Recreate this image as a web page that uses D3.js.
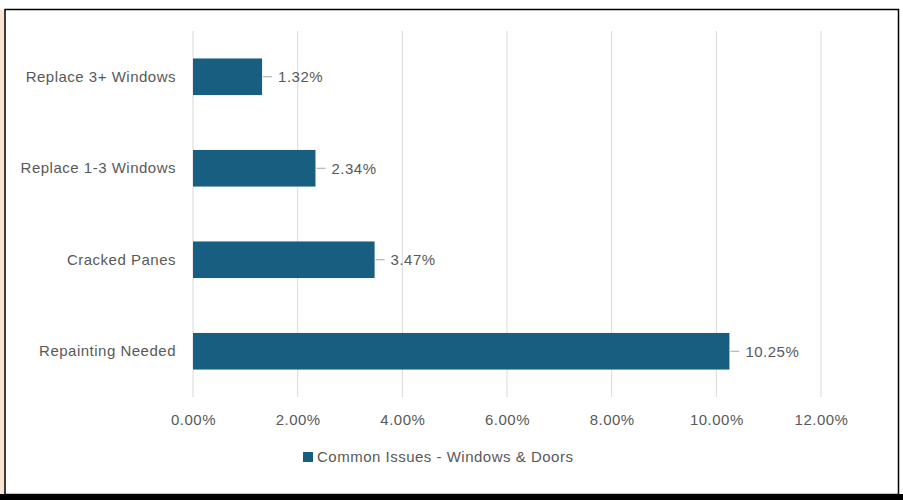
<!DOCTYPE html>
<html><head><meta charset="utf-8">
<script src="https://cdn.jsdelivr.net/npm/d3@7/dist/d3.min.js"></script>
<style>
html,body{margin:0;padding:0;background:#fff;}
svg{display:block;}
text{font-family:"Liberation Sans",Arial,sans-serif;fill:#595959;letter-spacing:0.5px;}
</style></head>
<body>
<script>
const categories = ["Replace 3+ Windows","Replace 1-3 Windows","Cracked Panes","Repainting Needed"];
const values = [1.32, 2.34, 3.47, 10.25];
const xTicks = [0,2,4,6,8,10,12];
const seriesName = "Common Issues - Windows & Doors";

const W = 903, H = 500;
const svg = d3.select("body").append("svg").attr("width", W).attr("height", H);

// frame
svg.append("rect").attr("x",0).attr("y",10).attr("width",5).attr("height",H-10).attr("fill","#fbe5d2");
svg.append("rect").attr("x",5).attr("y",9.5).attr("width",893.5).attr("height",485).attr("fill","#fff").attr("stroke","#000").attr("stroke-width",1.5);
svg.append("rect").attr("x",0).attr("y",494).attr("width",W).attr("height",6).attr("fill","#000");

const x = d3.scaleLinear().domain([0,12]).range([193,821]);
const y = d3.scaleBand().domain(categories).range([31,397]).paddingInner(0.6).paddingOuter(0.3);

// gridlines
svg.append("g").selectAll("line").data(xTicks).join("line")
  .attr("x1",d=>x(d)).attr("x2",d=>x(d)).attr("y1",31).attr("y2",397)
  .attr("stroke","#d9d9d9").attr("stroke-width",1);

// x tick labels
const xa = d3.axisBottom(x).tickValues(xTicks).tickSize(0).tickPadding(0).tickFormat(d=>d.toFixed(2)+"%");
const gx = svg.append("g").attr("transform","translate(0,414)").call(xa);
gx.select(".domain").remove();
gx.selectAll("text").attr("font-size",15).attr("fill","#595959").attr("font-family","Liberation Sans, Arial, sans-serif");

// y labels
const ya = d3.axisLeft(y).tickSize(0).tickPadding(17);
const gy = svg.append("g").attr("transform","translate(193,0)").call(ya);
gy.select(".domain").remove();
gy.selectAll("text").attr("font-size",15).attr("fill","#595959").attr("font-family","Liberation Sans, Arial, sans-serif");

// bars
svg.append("g").selectAll("rect").data(values).join("rect")
  .attr("x",x(0)).attr("y",(d,i)=>y(categories[i]))
  .attr("width",d=>x(d)-x(0)).attr("height",y.bandwidth())
  .attr("fill","#185e80");

// leader lines + labels
svg.append("g").selectAll("line").data(values).join("line")
  .attr("x1",d=>x(d)+1).attr("x2",d=>x(d)+10)
  .attr("y1",(d,i)=>y(categories[i])+y.bandwidth()/2)
  .attr("y2",(d,i)=>y(categories[i])+y.bandwidth()/2)
  .attr("stroke","#a6a6a6").attr("stroke-width",1);
svg.append("g").selectAll("text").data(values).join("text")
  .attr("x",d=>x(d)+16)
  .attr("y",(d,i)=>y(categories[i])+y.bandwidth()/2)
  .attr("dy","0.35em").attr("font-size",15)
  .text(d=>d.toFixed(2)+"%");

// legend
const lg = svg.append("g");
lg.append("rect").attr("x",303).attr("y",452).attr("width",10).attr("height",10).attr("fill","#185e80");
lg.append("text").attr("x",317).attr("y",457).attr("dy","0.35em").attr("font-size",15).text(seriesName);
</script>
</body></html>
